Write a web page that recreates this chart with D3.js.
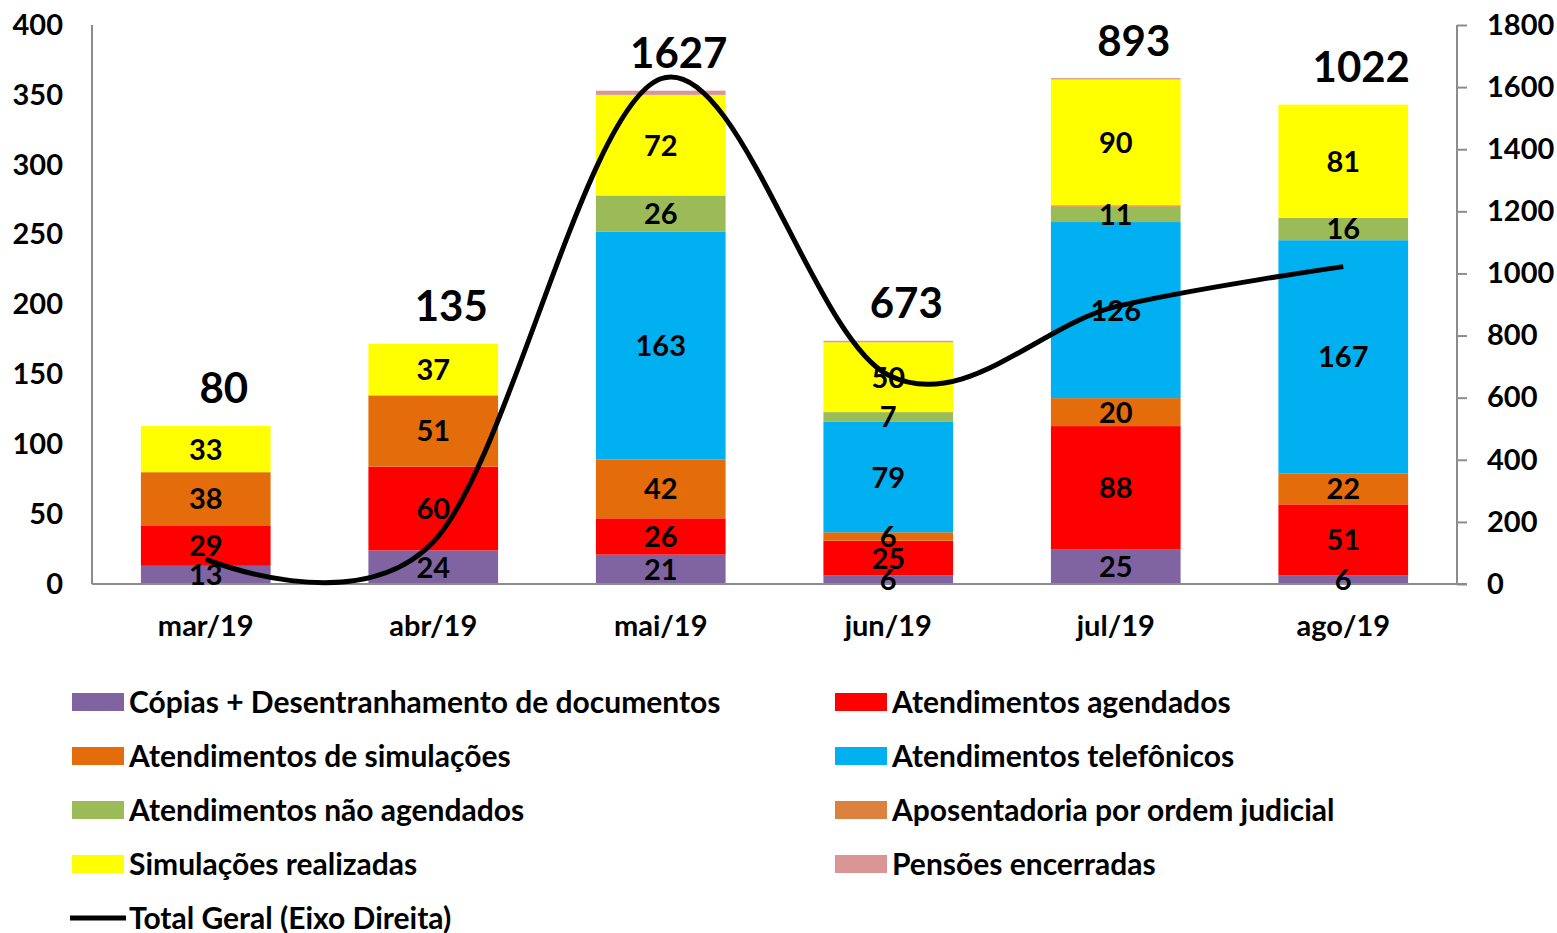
<!DOCTYPE html>
<html>
<head>
<meta charset="utf-8">
<script src="https://cdn.jsdelivr.net/npm/d3@7"></script>
<style>
  body { margin: 0; background: #fff; }
  text { font-family: Lato, "Open Sans", sans-serif; font-weight: bold; fill: #000; }
</style>
</head>
<body>
<div id="chart"></div>
<script>
// categories
const months = ["mar/19", "abr/19", "mai/19", "jun/19", "jul/19", "ago/19"];

// stacked series (left axis), bottom to top
const copias        = [13, 24, 21, 6, 25, 6];
const agendados     = [29, 60, 26, 25, 88, 51];
const simulacoesAt  = [38, 51, 42, 6, 20, 22];
const telefonicos   = [0, 0, 163, 79, 126, 167];
const naoAgendados  = [0, 0, 26, 7, 11, 16];
const aposentadoria = [0, 0, 0, 0, 1, 0];
const simRealizadas = [33, 37, 72, 50, 90, 81];
const pensoes       = [0, 0, 3, 1, 1, 0];

// line (right axis)
const totalGeral = [80, 135, 1627, 673, 893, 1022];

const leftTicks = [0, 50, 100, 150, 200, 250, 300, 350, 400];
const rightTicks = [0, 200, 400, 600, 800, 1000, 1200, 1400, 1600, 1800];

const series = [
    { name: "Cópias + Desentranhamento de documentos", values: copias, color: "#8064A2" },
    { name: "Atendimentos agendados", values: agendados, color: "#FF0000" },
    { name: "Atendimentos de simulações", values: simulacoesAt, color: "#E46C0A" },
    { name: "Atendimentos telefônicos", values: telefonicos, color: "#00B0F0" },
    { name: "Atendimentos não agendados", values: naoAgendados, color: "#9BBB59" },
    { name: "Aposentadoria por ordem judicial", values: aposentadoria, color: "#DD823E" },
    { name: "Simulações realizadas", values: simRealizadas, color: "#FFFF00" },
    { name: "Pensões encerradas", values: pensoes, color: "#D99694" }
];

const width = 1557, height = 933;
const margin = { top: 25, left: 92 };
const innerW = 1457 - margin.left;
const innerH = 584 - margin.top;

const svg = d3.select("#chart").append("svg")
    .attr("width", width)
    .attr("height", height);

const g = svg.append("g")
    .attr("transform", "translate(" + margin.left + "," + margin.top + ")");

// scales
const x = d3.scaleBand().domain(months).range([0, innerW]).paddingInner(0.43).paddingOuter(0.215);
const y = d3.scaleLinear().domain([0, 400]).range([innerH, 0]);
const y2 = d3.scaleLinear().domain([0, 1800]).range([innerH, 0]);

// stack
const table = months.map((m, i) => {
    let row = { month: m };
    series.forEach(s => { row[s.name] = s.values[i]; });
    return row;
});
const stacked = d3.stack().keys(series.map(s => s.name))(table);

// axes
const yAxis = d3.axisLeft(y).tickValues(leftTicks).tickSize(0).tickPadding(29);
const yAxisR = d3.axisRight(y2).tickValues(rightTicks).tickFormat(d3.format("d")).tickSize(10).tickPadding(20);

const gl = g.append("g").attr("class", "y-axis").call(yAxis);
gl.select(".domain").attr("stroke", "#8c8c8c").attr("stroke-width", 2).attr("d", "M0," + innerH + "V0");
gl.selectAll("text").style("font-size", "29px");

const gr = g.append("g").attr("class", "y-axis-right")
    .attr("transform", "translate(" + innerW + ",0)")
    .call(yAxisR);
gr.select(".domain").attr("stroke", "#8c8c8c").attr("stroke-width", 2).attr("d", "M0," + innerH + "V0");
gr.selectAll("line").attr("stroke", "#8c8c8c").attr("stroke-width", 2);
gr.selectAll("text").style("font-size", "29px");

// bars
const layers = g.selectAll(".layer")
    .data(stacked)
    .enter().append("g")
    .attr("class", "layer")
    .attr("fill", (d, i) => series[i].color);

layers.selectAll("rect")
    .data(d => d)
    .enter().append("rect")
    .attr("x", d => x(d.data.month))
    .attr("y", d => y(d[1]))
    .attr("width", x.bandwidth())
    .attr("height", d => y(d[0]) - y(d[1]));

// x axis line
g.append("line")
    .attr("x1", 0).attr("x2", innerW + 10)
    .attr("y1", innerH).attr("y2", innerH)
    .attr("stroke", "#8c8c8c").attr("stroke-width", 2);

// category labels
g.selectAll(".cat")
    .data(months)
    .enter().append("text")
    .attr("class", "cat")
    .attr("x", d => x(d) + x.bandwidth() / 2)
    .attr("y", innerH + 52)
    .attr("text-anchor", "middle")
    .style("font-size", "29px")
    .text(d => d);

// segment labels (skip tiny ones)
const segLabels = g.append("g").attr("class", "seg-labels");
stacked.forEach(layer => {
    segLabels.selectAll(null)
        .data(layer.filter(d => d[1] - d[0] >= 5))
        .enter().append("text")
        .attr("x", d => x(d.data.month) + x.bandwidth() / 2)
        .attr("y", d => y((d[0] + d[1]) / 2))
        .attr("dy", "0.36em")
        .attr("text-anchor", "middle")
        .style("font-size", "29px")
        .text(d => d[1] - d[0]);
});

// total line
const line = d3.line()
    .x((d, i) => x(months[i]) + x.bandwidth() / 2)
    .y(d => y2(d))
    .curve(d3.curveCardinal.tension(0));

g.append("path")
    .datum(totalGeral)
    .attr("d", line)
    .attr("fill", "none")
    .attr("stroke", "#000")
    .attr("stroke-width", 5);

// total labels above bars
const barTops = months.map((m, i) => d3.sum(series, s => s.values[i]));
g.selectAll(".total")
    .data(totalGeral)
    .enter().append("text")
    .attr("class", "total")
    .attr("x", (d, i) => x(months[i]) + x.bandwidth() / 2 + 18)
    .attr("y", (d, i) => y(barTops[i] + 27))
    .attr("dy", "0.36em")
    .attr("text-anchor", "middle")
    .style("font-size", "42px")
    .text(d => d);

// legend
const legendItems = series.map(s => ({ name: s.name, color: s.color, type: "rect" }));
legendItems.push({ name: "Total Geral (Eixo Direita)", color: "#000", type: "line" });

const legend = svg.append("g").attr("class", "legend");
const lg = legend.selectAll("g")
    .data(legendItems)
    .enter().append("g")
    .attr("transform", (d, i) => "translate(" + (i % 2 === 0 ? 72 : 835) + "," + (702 + Math.floor(i / 2) * 54) + ")");

lg.filter(d => d.type === "rect").append("rect")
    .attr("x", 0).attr("y", -9)
    .attr("width", 52).attr("height", 18)
    .attr("fill", d => d.color);

lg.filter(d => d.type === "line").append("line")
    .attr("x1", -2).attr("x2", 54)
    .attr("y1", 0).attr("y2", 0)
    .attr("stroke", "#000").attr("stroke-width", 5);

lg.append("text")
    .attr("x", 57)
    .attr("dy", "0.36em")
    .style("font-size", "30px")
    .text(d => d.name);
</script>
</body>
</html>
